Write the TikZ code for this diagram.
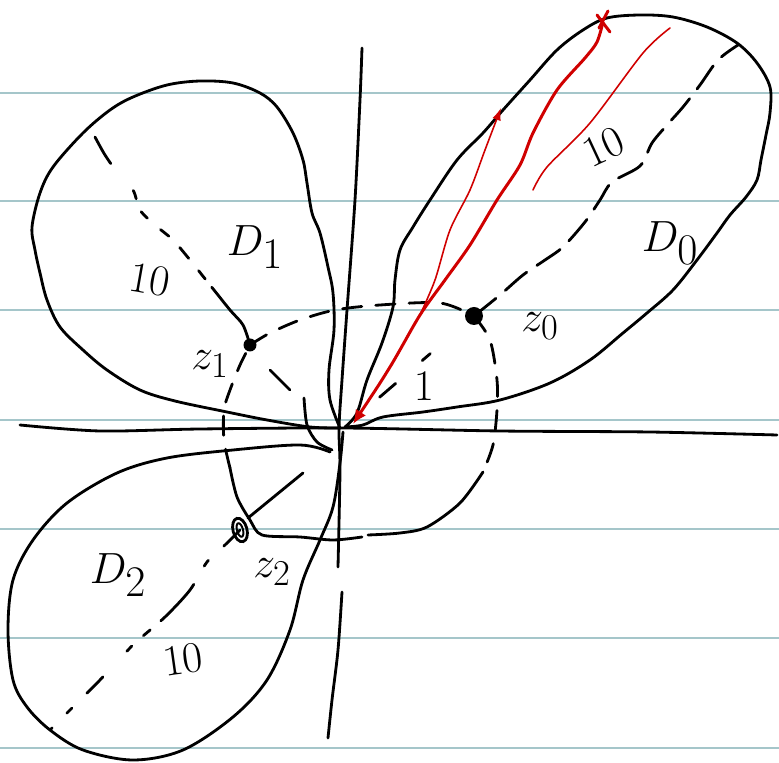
\documentclass[tikz,border=0pt]{standalone}
\usetikzlibrary{arrows.meta}
\definecolor{rulecol}{RGB}{165,198,202}
\definecolor{pen}{RGB}{208,0,0}
\begin{document}
\begin{tikzpicture}[x=0.02cm,y=-0.02cm,
  ink/.style={line width=1.6pt,line cap=round,line join=round,black},
  dsh/.style={ink,dash pattern=on 11pt off 8pt},
  redpen/.style={line width=1.7pt,line cap=round,line join=round,pen},
  redthin/.style={line width=0.9pt,line cap=round,pen},
  bigl/.style={inner sep=0pt,font=\fontsize{38}{38}\selectfont},
  zl/.style={inner sep=0pt,font=\fontsize{30}{30}\selectfont},
  numl/.style={inner sep=0pt,font=\fontsize{25}{25}\selectfont}]
\useasboundingbox (0,0) rectangle (779,763);
\fill[white] (0,0) rectangle (779,763);
\foreach \yy in {93,201,310,420,529,638,748}
  \draw[rulecol,line width=1.7pt] (0,\yy) -- (779,\yy);

% key points
\coordinate (O) at (345,427);
\coordinate (z0) at (474,316);
\coordinate (z1) at (250,345);
\coordinate (z2) at (240,530);

% axes
\draw[ink] plot[smooth] coordinates {(20,425) (100,431) (200,429) (343,428) (500,431) (650,432) (777,435)};
\draw[ink] plot[smooth] coordinates {(362,48) (360,100) (355,200) (347,310) (342,380) (339,428) (340,470) (338,567)};
\draw[ink] plot[smooth] coordinates {(342,592) (338,650) (332,700) (328,738)};

% D0 outline
\draw[ink] plot[smooth, tension=0.55] coordinates {(O) (357,413) (367,380) (382,343) (393,307) (395,280) (400,250) (413,227) (430,200) (457,160) (483,133) (503,110) (530,80) (557,50) (583,30) (607,18) (640,15) (673,17) (707,27) (737,43) (757,63) (770,87) (770,113) (766,135) (761,160) (757,180) (746,197) (730,215) (717,233) (697,260) (673,290) (647,313) (623,333) (590,360) (550,383) (500,400) (457,407) (423,412) (383,417) (363,425) (O)};

% D1 outline
\draw[ink] plot[smooth, tension=0.55] coordinates {(340,428) (330,400) (329,370) (334,330) (333,293) (328,267) (320,233) (312,213) (307,183) (303,160) (293,133) (277,107) (260,93) (233,83) (200,81) (167,85) (133,97) (110,110) (83,133) (53,167) (40,193) (32,227) (35,250) (40,273) (47,300) (60,327) (83,350) (107,370) (140,390) (175,401) (227,412) (267,420) (310,427) (340,428)};

% D2 outline
\draw[ink] plot[smooth, tension=0.55] coordinates {(343,432) (340,463) (333,507) (320,540) (303,580) (290,630) (267,680) (233,717) (183,750) (133,760) (83,750) (50,730) (27,707) (13,680) (8,630) (13,580) (33,540) (67,503) (117,473) (167,458) (233,450) (300,445) (330,452)};

% unit circle through z0, z1, z2
\draw[dsh] plot[smooth] coordinates {(z1) (270,333) (300,320) (335,310) (380,305) (440,303) (z0)};
\draw[dsh] plot[smooth] coordinates {(z0) (490,340) (497,380) (497,410) (493,445) (483,472)};
\draw[ink] plot[smooth] coordinates {(483,472) (460,503) (427,527) (400,533) (368,535)};
\draw[ink] plot[smooth] coordinates {(362,537) (333,540) (300,537) (262,535) (250,520) (237,497) (230,468)};
\draw[dsh] plot[smooth] coordinates {(230,468) (224,440) (224,410) (230,390) (240,365) (z1)};

% radii of length 10
\draw[ink,dash pattern=on 16pt off 7pt] plot[smooth] coordinates {(z0) (500,295) (523,275) (545,260) (563,247) (585,222) (600,200) (612,182) (640,166) (652,143) (667,125) (683,107) (700,85) (718,60) (738,45)};
\draw[ink,dash pattern=on 40pt off 6pt on 6pt off 9pt on 8pt off 9pt on 6pt off 10pt on 5pt off 8pt on 5pt off 20pt] plot[smooth] coordinates {(z1) (243,325) (230,310) (210,285) (190,260) (173,240) (155,225) (140,210) (133,190) (117,172) (105,155) (95,137)};
\draw[ink,dash pattern=on 13pt off 12pt on 4pt off 12pt on 28pt off 8pt on 5pt off 9pt on 4pt off 20pt] plot[smooth] coordinates {(z2) (225,545) (207,562) (190,590) (165,617) (133,645) (100,680) (75,705) (50,730)};

% radius 1 from origin to z0
\draw[ink,dash pattern=on 0pt off 26pt on 12pt off 20pt on 6pt off 40pt] (O) -- (z0);
% short strokes from z1 and z2 toward origin
\draw[ink] (270,370) -- (290,390);
\draw[ink] plot[smooth] coordinates {(304,398) (307,425) (317,442) (332,450)};
\draw[ink] (248,518) -- (303,473);

% points
\fill (z0) circle (9);
\fill (z1) circle (6.5);
\draw[line width=1.6pt, rotate around={15:(z2)}] (z2) ellipse (7 and 12);
\draw[line width=1.1pt, rotate around={15:(z2)}] (z2) ellipse (3 and 7);

% labels
\node[bigl] (D0) at (670,243) {$D_0$};
\node[bigl] (D1) at (255,247) {$D_1$};
\node[bigl] (D2) at (118,575) {$D_2$};
\node[zl] (lz0) at (540,326) {$z_0$};
\node[zl] (lz1) at (210,364) {$z_1$};
\node[zl] (lz2) at (272,572) {$z_2$};
\node[numl,rotate=25] (t0) at (604,147) {$10$};
\node[numl,rotate=-10] (t1) at (150,280) {$10$};
\node[numl,rotate=8] (t2) at (183,660) {$10$};
\node[numl] (t3) at (424,386) {$1$};

% red strokes
\coordinate (X) at (603,22);
\draw[redpen,{Latex[length=8pt,width=7pt]}-] plot[smooth] coordinates {(353,424) (390,367) (420,315) (445,280) (470,245) (497,200) (520,165) (533,133) (557,90) (585,58) (597,42) (X)};
\draw[redthin,-{Latex[length=7pt,width=5pt]}] plot[smooth] coordinates {(420,315) (435,280) (450,230) (470,190) (485,150) (501,108)};
\draw[redthin] plot[smooth] coordinates {(533,190) (547,167) (590,123) (643,53) (670,28)};
\draw[redpen] (597,15) -- (610,32) (608,11) -- (599,28);
\end{tikzpicture}
\end{document}
